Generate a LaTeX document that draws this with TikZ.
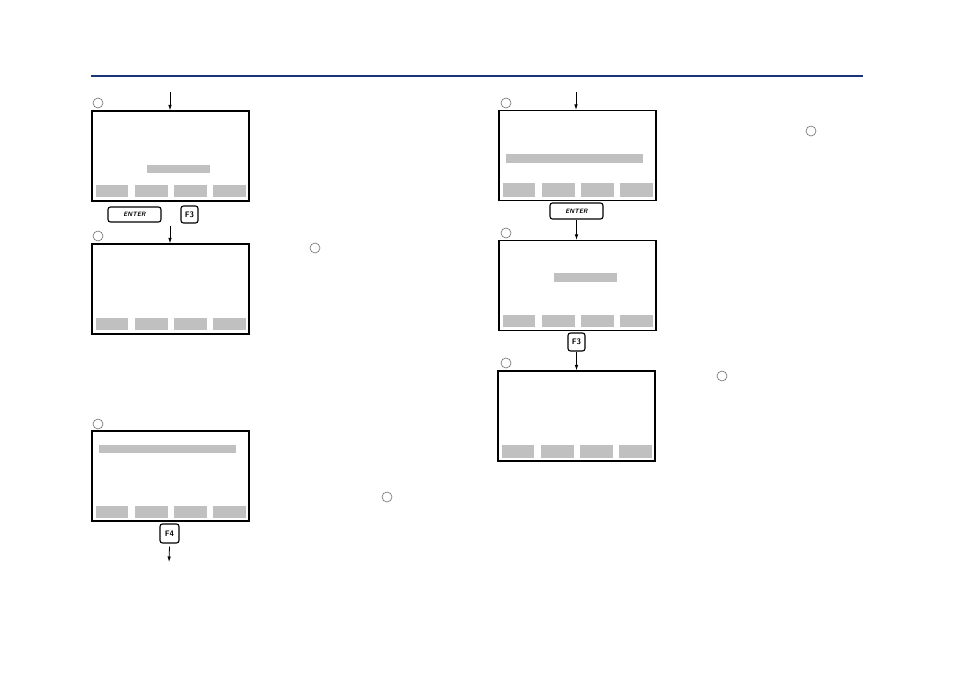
\documentclass[tikz,border=0pt]{standalone}
\usetikzlibrary{arrows.meta}
\definecolor{rule}{RGB}{28,52,120}
\definecolor{barg}{RGB}{192,192,192}
\definecolor{ringg}{RGB}{110,110,110}
\tikzset{
  screen/.style={draw=black, line width=1.1pt, fill=white, minimum width=157pt, minimum height=90pt, inner sep=0pt},
  keybox/.style={draw=black, line width=1.1pt, rounded corners=2.5pt, inner sep=0pt, font=\sffamily\bfseries\fontsize{8}{9}\selectfont},
  ring/.style={draw=ringg, line width=0.6pt, circle, minimum size=10pt, inner sep=0pt},
  flow/.style={line width=0.8pt, -{Latex[length=5.5pt,width=3.5pt]}},
  bar/.style={fill=barg}
}
\newcommand{\softkeys}[3]{% x offset, top y, bottom y
  \fill[bar] (#1+4,#2) rectangle (#1+36,#3);
  \fill[bar] (#1+43,#2) rectangle (#1+76,#3);
  \fill[bar] (#1+82,#2) rectangle (#1+115,#3);
  \fill[bar] (#1+121,#2) rectangle (#1+154,#3);
}
\begin{document}
\begin{tikzpicture}[x=1pt,y=-1pt]
\useasboundingbox (0,0) rectangle (954,674);
\fill[white] (0,0) rectangle (954,674);
% top rule
\draw[rule, line width=2.6pt] (91,76) -- (863,76);

% ---------- left column ----------
\node[ring] (c1) at (98,103) {};
\coordinate (in1) at (170,92);
\node[screen] (s1) at (170.5,156) {};
\draw[flow] (in1) -- (s1.north -| in1);
\fill[bar] (147,165) rectangle (210,173);
\softkeys{92}{185}{197}
\node[keybox, minimum width=53pt, minimum height=15pt] (enter1) at (134.5,214.5) {\fontsize{6.3}{7}\selectfont\itshape ENTER};
\node[keybox, minimum width=17pt, minimum height=17pt] (f3a) at (189.5,214.5) {F3};

\node[ring] (c2) at (98,236) {};
\coordinate (k1) at (170,226);
\node[screen] (s2) at (170.5,289) {};
\draw[flow] (k1) -- (s2.north -| k1);
\softkeys{92}{318}{330}
\node[ring] (c3) at (315,248) {};

\node[ring] (c4) at (98,424) {};
\node[screen] (s3) at (170.5,476) {};
\fill[bar] (99,445) rectangle (236,453);
\softkeys{92}{506}{518}
\node[keybox, minimum width=19pt, minimum height=19pt] (f4) at (169.5,533.5) {F4};
\coordinate (out1) at (169,562);
\draw[flow] ([yshift=-3pt]f4.south) -- (out1);
\node[ring] (c5) at (387,497) {};

% ---------- right column ----------
\node[ring] (c6) at (506,103) {};
\coordinate (in2) at (576,92);
\node[screen] (s4) at (577.5,155.5) {};
\draw[flow] (in2) -- (s4.north -| in2);
\fill[bar] (506,154) rectangle (643,163);
\softkeys{499}{183}{197}
\node[keybox, minimum width=53pt, minimum height=16pt] (enter2) at (576.5,211) {\fontsize{6.3}{7}\selectfont\itshape ENTER};
\node[ring] (c7) at (811,131) {};

\node[ring] (c8) at (506,233) {};
\node[screen] (s5) at (577.5,285.5) {};
\draw[flow] (enter2.south) -- (s5.north -| enter2.south);
\fill[bar] (554,273) rectangle (617,282);
\softkeys{499}{315}{327}
\node[keybox, minimum width=17pt, minimum height=18pt] (f3b) at (576.5,342) {F3};

\node[ring] (c9) at (506,363) {};
\node[screen] (s6) at (576.5,416) {};
\draw[flow] (f3b.south) -- (s6.north -| f3b.south);
\softkeys{498}{445}{458}
\node[ring] (c10) at (722,376) {};
\end{tikzpicture}
\end{document}
